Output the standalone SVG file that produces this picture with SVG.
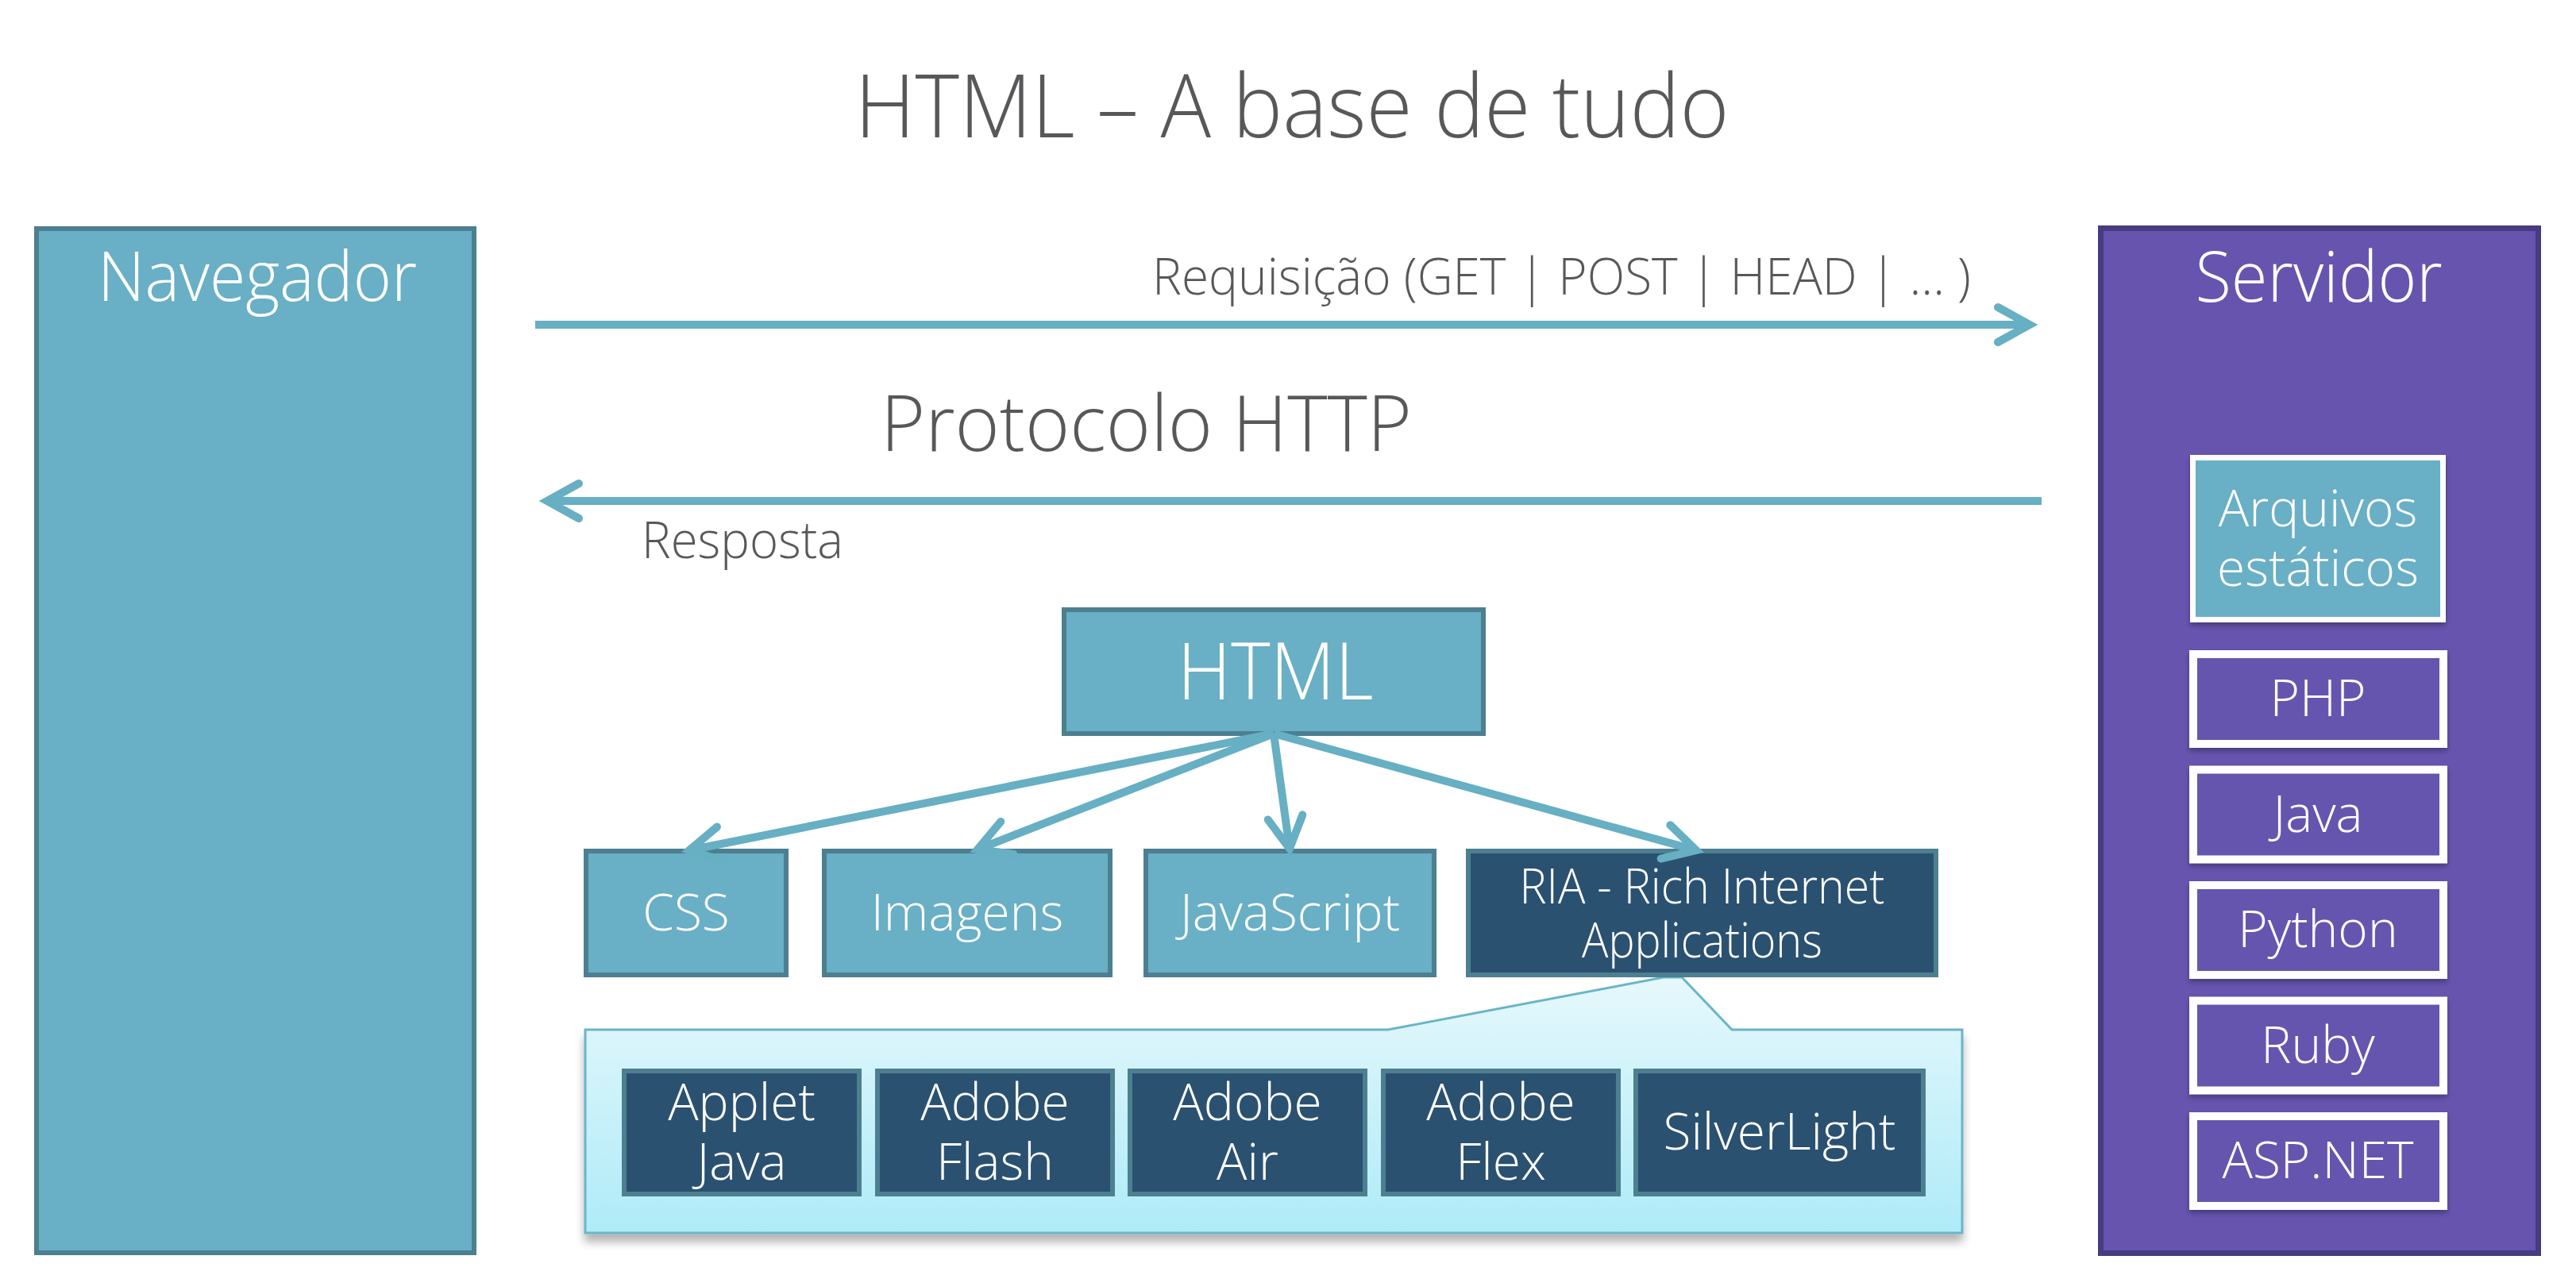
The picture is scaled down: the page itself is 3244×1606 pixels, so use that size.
<svg xmlns="http://www.w3.org/2000/svg" width="3244" height="1606" viewBox="0 0 3244 1606">
<defs>
<style>
text{font-family:"Open Sans","Liberation Sans",sans-serif;font-weight:300}
.g{fill:#58585A}
.w{fill:#ffffff;text-anchor:middle}
.teal{fill:#69AFC5;stroke:#4C7F8F;stroke-width:6}
.navy{fill:#2B5171;stroke:#4C7F8F;stroke-width:6}
.item{fill:#6654AE;stroke:#ffffff;stroke-width:10}
.conn{stroke:#67AFC3;stroke-width:10;fill:none}
</style>
<marker id="arr" markerUnits="userSpaceOnUse" viewBox="-55 -35 70 70" refX="0" refY="0" markerWidth="70" markerHeight="70" orient="auto">
<path d="M-40,-22 L0,0 L-40,22" fill="none" stroke="#67AFC3" stroke-width="10" stroke-linecap="round" stroke-linejoin="miter"/>
</marker>
<linearGradient id="callg" x1="0" y1="0" x2="0" y2="1">
<stop offset="0" stop-color="#E6F8FC"/>
<stop offset="1" stop-color="#AEEBF8"/>
</linearGradient>
<filter id="sh" x="-5%" y="-10%" width="110%" height="130%">
<feGaussianBlur in="SourceAlpha" stdDeviation="6"/>
<feOffset dy="10"/>
<feComponentTransfer><feFuncA type="linear" slope="0.3"/></feComponentTransfer>
<feMerge><feMergeNode/><feMergeNode in="SourceGraphic"/></feMerge>
</filter>
<filter id="sh2" x="-5%" y="-10%" width="110%" height="130%">
<feGaussianBlur in="SourceAlpha" stdDeviation="3"/>
<feOffset dy="4"/>
<feComponentTransfer><feFuncA type="linear" slope="0.3"/></feComponentTransfer>
<feMerge><feMergeNode/><feMergeNode in="SourceGraphic"/></feMerge>
</filter>
</defs>
<rect width="3244" height="1606" fill="#ffffff"/>

<g id="title">
<text x="1627" y="173" font-size="110" class="g" text-anchor="middle" textLength="1101" lengthAdjust="spacingAndGlyphs">HTML – A base de tudo</text>
</g>

<g id="navegador">
<rect class="teal" x="46" y="288" width="551" height="1290"/>
<text class="w" x="324" y="379" font-size="86" textLength="402" lengthAdjust="spacingAndGlyphs">Navegador</text>
</g>

<g id="servidor">
<rect x="2645.5" y="287.5" width="551" height="1291" fill="#6654AE" stroke="#473B82" stroke-width="7"/>
<text class="w" x="2920" y="380" font-size="88" textLength="311" lengthAdjust="spacingAndGlyphs">Servidor</text>
</g>

<g id="arquivos">
<rect x="2761.5" y="576.5" width="315" height="204" fill="#69AFC5" stroke="#ffffff" stroke-width="7" filter="url(#sh2)"/>
<text class="w" x="2919" y="663" font-size="64">Arquivos</text>
<text class="w" x="2919" y="738" font-size="64">estáticos</text>
</g>

<g id="php">
<rect class="item" x="2762" y="824" width="315" height="113" filter="url(#sh2)"/>
<text class="w" x="2919" y="902" font-size="64">PHP</text>
</g>
<g id="java">
<rect class="item" x="2762" y="969.5" width="315" height="113" filter="url(#sh2)"/>
<text class="w" x="2919" y="1047.5" font-size="64">Java</text>
</g>
<g id="python">
<rect class="item" x="2762" y="1115" width="315" height="113" filter="url(#sh2)"/>
<text class="w" x="2919" y="1193" font-size="64">Python</text>
</g>
<g id="ruby">
<rect class="item" x="2762" y="1260.5" width="315" height="113" filter="url(#sh2)"/>
<text class="w" x="2919" y="1338.5" font-size="64">Ruby</text>
</g>
<g id="aspnet">
<rect class="item" x="2762" y="1406" width="315" height="113" filter="url(#sh2)"/>
<text class="w" x="2919" y="1484" font-size="64">ASP.NET</text>
</g>

<g id="labels">
<text class="g" x="1451" y="371" font-size="64" textLength="1031" lengthAdjust="spacingAndGlyphs">Requisição (GET | POST | HEAD | ... )</text>
<text class="g" x="1109" y="568" font-size="98" textLength="669" lengthAdjust="spacingAndGlyphs">Protocolo HTTP</text>
<text class="g" x="808" y="703" font-size="64" textLength="254" lengthAdjust="spacingAndGlyphs">Resposta</text>
</g>

<g id="html">
<rect class="teal" x="1340" y="768" width="528" height="156"/>
<text class="w" x="1606" y="881" font-size="100" textLength="247" lengthAdjust="spacingAndGlyphs">HTML</text>
</g>

<g id="ria-callout">
<polygon points="737,1297 1748,1297 2095,1231 2118,1231 2181,1297 2471,1297 2471,1553 737,1553" fill="url(#callg)" stroke="#6AB5C8" stroke-width="3" filter="url(#sh)"/>
</g>

<g id="css">
<rect class="teal" x="738" y="1072" width="252" height="156"/>
<text class="w" x="864" y="1172" font-size="64">CSS</text>
</g>
<g id="imagens">
<rect class="teal" x="1038" y="1072" width="360" height="156"/>
<text class="w" x="1218" y="1172" font-size="64">Imagens</text>
</g>
<g id="javascript">
<rect class="teal" x="1443" y="1072" width="363" height="156"/>
<text class="w" x="1624.5" y="1172" font-size="64">JavaScript</text>
</g>
<g id="ria">
<rect class="navy" x="1849" y="1072" width="589" height="156"/>
<text class="w" x="2143.5" y="1138" font-size="60" textLength="460" lengthAdjust="spacingAndGlyphs">RIA - Rich Internet</text>
<text class="w" x="2143.5" y="1206" font-size="60" textLength="303" lengthAdjust="spacingAndGlyphs">Applications</text>
</g>

<g id="applet">
<rect class="navy" x="786" y="1349" width="296" height="155"/>
<text class="w" x="934" y="1411" font-size="64">Applet</text>
<text class="w" x="934" y="1486" font-size="64">Java</text>
</g>
<g id="flash">
<rect class="navy" x="1105" y="1349" width="296" height="155"/>
<text class="w" x="1253" y="1411" font-size="64">Adobe</text>
<text class="w" x="1253" y="1486" font-size="64">Flash</text>
</g>
<g id="air">
<rect class="navy" x="1423" y="1349" width="296" height="155"/>
<text class="w" x="1571" y="1411" font-size="64">Adobe</text>
<text class="w" x="1571" y="1486" font-size="64">Air</text>
</g>
<g id="flex">
<rect class="navy" x="1742" y="1349" width="296" height="155"/>
<text class="w" x="1890" y="1411" font-size="64">Adobe</text>
<text class="w" x="1890" y="1486" font-size="64">Flex</text>
</g>
<g id="silverlight">
<rect class="navy" x="2060" y="1349" width="362" height="155"/>
<text class="w" x="2241" y="1448" font-size="64">SilverLight</text>
</g>

<g id="connectors">
<line class="conn" x1="674" y1="409" x2="2556" y2="409" marker-end="url(#arr)"/>
<line class="conn" x1="2571" y1="631" x2="689" y2="631" marker-end="url(#arr)"/>
<line class="conn" x1="1604" y1="924" x2="868" y2="1071" marker-end="url(#arr)"/>
<line class="conn" x1="1604" y1="924" x2="1231" y2="1070" marker-end="url(#arr)"/>
<line class="conn" x1="1604" y1="924" x2="1624" y2="1069" marker-end="url(#arr)"/>
<line class="conn" x1="1604" y1="924" x2="2136" y2="1071" marker-end="url(#arr)"/>
</g>
</svg>
